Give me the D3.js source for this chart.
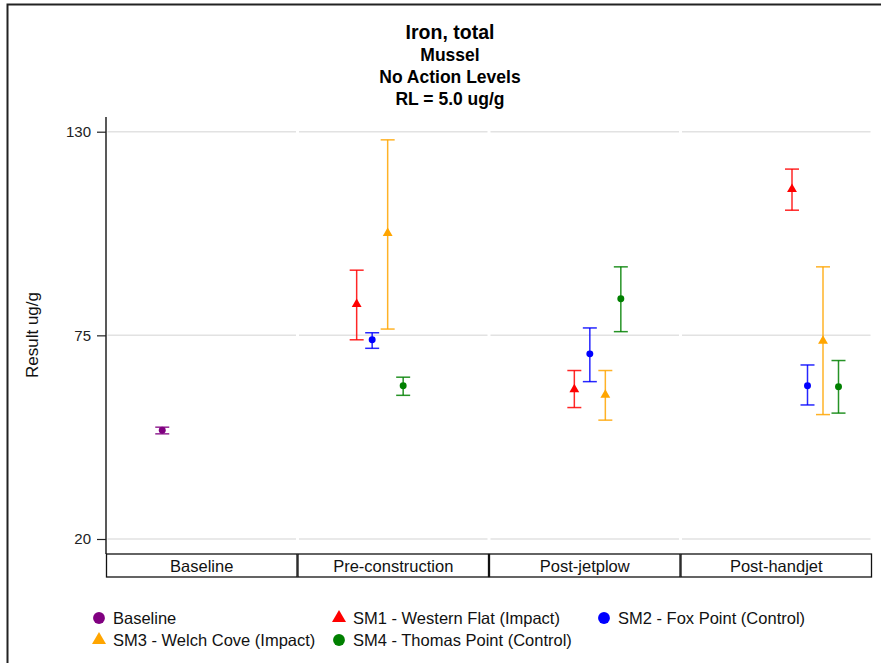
<!DOCTYPE html>
<html>
<head>
<meta charset="utf-8">
<script src="https://cdn.jsdelivr.net/npm/d3@7"></script>
<style>
  html, body { margin: 0; padding: 0; background: #fff; }
  svg { display: block; font-family: "Liberation Sans", Arial, sans-serif; }
</style>
</head>
<body>
<div id="chart"></div>
<script>
// ---------- Data ----------
const periods = ['Baseline', 'Pre-construction', 'Post-jetplow', 'Post-handjet'];
const groups = ['Baseline', 'SM1 - Western Flat (Impact)', 'SM2 - Fox Point (Control)',
                'SM3 - Welch Cove (Impact)', 'SM4 - Thomas Point (Control)'];
const groupColors = ['#800080', '#ff0000', '#0000ff', '#ffa500', '#008000'];
const groupShapes = ['circle', 'triangle', 'circle', 'triangle', 'circle'];
const yTicks = [20, 75, 130];
const titleLines = ['Iron, total', 'Mussel', 'No Action Levels', 'RL = 5.0 ug/g'];

// one value per period (null = not sampled)
const baselineMean = [49.4, null, null, null];
const baselineLo   = [48.4, null, null, null];
const baselineHi   = [50.2, null, null, null];

const sm1Mean = [null, 83.4, 60.4, 114.5];
const sm1Lo   = [null, 73.8, 55.5, 108.8];
const sm1Hi   = [null, 92.6, 65.5, 119.9];

const sm2Mean = [null, 73.8, 70.0, 61.4];
const sm2Lo   = [null, 71.5, 62.5, 56.2];
const sm2Hi   = [null, 75.7, 77.0, 67.0];

const sm3Mean = [null, 102.6, 58.9, 73.5];
const sm3Lo   = [null, 76.7, 52.1, 53.6];
const sm3Hi   = [null, 127.8, 65.5, 93.5];

const sm4Mean = [null, 61.4, 84.9, 61.1];
const sm4Lo   = [null, 58.8, 76.0, 54.0];
const sm4Hi   = [null, 63.7, 93.5, 68.2];

const means = [baselineMean, sm1Mean, sm2Mean, sm3Mean, sm4Mean];
const lows  = [baselineLo, sm1Lo, sm2Lo, sm3Lo, sm4Lo];
const highs = [baselineHi, sm1Hi, sm2Hi, sm3Hi, sm4Hi];

const points = [];
groups.forEach((g, gi) => {
  periods.forEach((p, pi) => {
    if (means[gi][pi] == null) return;
    points.push({ group: g, gi, period: p, pi, mean: means[gi][pi], lo: lows[gi][pi], hi: highs[gi][pi] });
  });
});

// ---------- Layout ----------
const W = 881, H = 663;
const m = { l: 106, r: 872, t: 117, b: 554 };
const headerH = 23;

const svg = d3.select('#chart').append('svg').attr('width', W).attr('height', H);

// frame
svg.append('path').attr('d', `M7.5,${H} V4.5 H${W}`).attr('fill', 'none')
  .attr('stroke', '#222').attr('stroke-width', 2);

// titles
const titleG = svg.append('g').attr('text-anchor', 'middle').attr('font-weight', 'bold').attr('fill', '#000');
titleLines.forEach((t, i) => {
  titleG.append('text').attr('x', 450).attr('y', 39 + i * 22)
    .attr('font-size', i === 0 ? 19.5 : 17.5).text(t);
});

// scales
const x = d3.scaleBand().domain(periods).range([m.l, m.r]).padding(0);
const y = d3.scaleLinear().domain([20, 130]).range([539, 131.7]);
const periodShift = d3.scaleLinear().domain([0, periods.length - 1]).range([-39.5, 39]);
const smGroups = groups.slice(1);
const dodge = d3.scalePoint().domain(smGroups).range([-23.25, 23.25]);

const xPos = (d) => x(d.period) + x.bandwidth() / 2 + periodShift(d.pi) + (d.gi === 0 ? 0 : dodge(d.group));

// gridlines per panel
const grid = svg.append('g');
periods.forEach(p => {
  grid.selectAll(null).data(yTicks).join('line')
    .attr('x1', x(p) + 1.5).attr('x2', x(p) + x.bandwidth() - 1.5)
    .attr('y1', d => y(d)).attr('y2', d => y(d))
    .attr('stroke', '#e2e2e2').attr('stroke-width', 1.5);
});

// y axis
const yAxis = svg.append('g').attr('transform', `translate(${m.l},0)`)
  .call(d3.axisLeft(y).tickValues(yTicks).tickSize(9).tickPadding(6));
yAxis.select('.domain').attr('d', `M0,${m.t}V${m.b}`).attr('stroke', '#222').attr('stroke-width', 1.5);
yAxis.selectAll('.tick line').attr('stroke', '#222').attr('stroke-width', 1.2);
yAxis.selectAll('.tick text').attr('font-size', 15).attr('fill', '#222')
  .attr('font-family', '"Liberation Sans", Arial, sans-serif');

svg.append('text').attr('transform', `translate(38,335) rotate(-90)`)
  .attr('text-anchor', 'middle').attr('font-size', 17).attr('fill', '#111').text('Result ug/g');

// panel header cells at bottom
const hdr = svg.append('g');
hdr.selectAll('rect').data(periods).join('rect')
  .attr('x', d => x(d) + 0.5).attr('y', m.b).attr('width', x.bandwidth() - 1).attr('height', headerH)
  .attr('fill', '#fff').attr('stroke', '#111').attr('stroke-width', 1.3);
hdr.selectAll('text').data(periods).join('text')
  .attr('x', d => x(d) + x.bandwidth() / 2).attr('y', m.b + 17.5)
  .attr('text-anchor', 'middle').attr('font-size', 16.5).attr('fill', '#111').text(d => d);

// error bars
const capW = 7;
const bars = svg.append('g').selectAll('g').data(points).join('g')
  .attr('stroke', d => groupColors[d.gi]).attr('stroke-width', 1.5).attr('stroke-opacity', 0.85);
bars.append('line').attr('x1', xPos).attr('x2', xPos).attr('y1', d => y(d.lo)).attr('y2', d => y(d.hi));
bars.append('line').attr('x1', d => xPos(d) - capW).attr('x2', d => xPos(d) + capW)
  .attr('y1', d => y(d.lo)).attr('y2', d => y(d.lo));
bars.append('line').attr('x1', d => xPos(d) - capW).attr('x2', d => xPos(d) + capW)
  .attr('y1', d => y(d.hi)).attr('y2', d => y(d.hi));

// markers
const symType = (s) => s === 'triangle' ? d3.symbolTriangle : d3.symbolCircle;
svg.append('g').selectAll('path').data(points).join('path')
  .attr('transform', d => `translate(${xPos(d)},${y(d.mean)})`)
  .attr('d', d => d3.symbol().type(symType(groupShapes[d.gi])).size(groupShapes[d.gi] === 'triangle' ? 42 : 38)())
  .attr('fill', d => groupColors[d.gi]);

// legend (text left edges per column / row)
const legendPos = [[113, 618], [353, 618], [618, 618], [113, 640], [353, 640]];
const leg = svg.append('g').selectAll('g').data(groups).join('g')
  .attr('transform', (d, i) => `translate(${legendPos[i][0]},${legendPos[i][1]})`);
leg.append('path')
  .attr('transform', 'translate(-14,0)')
  .attr('d', (d, i) => d3.symbol().type(symType(groupShapes[i])).size(groupShapes[i] === 'triangle' ? 85 : 110)())
  .attr('fill', (d, i) => groupColors[i]);
leg.append('text').attr('x', 0).attr('y', 6).attr('font-size', 16.5).attr('fill', '#111').text(d => d);
</script>
</body>
</html>
